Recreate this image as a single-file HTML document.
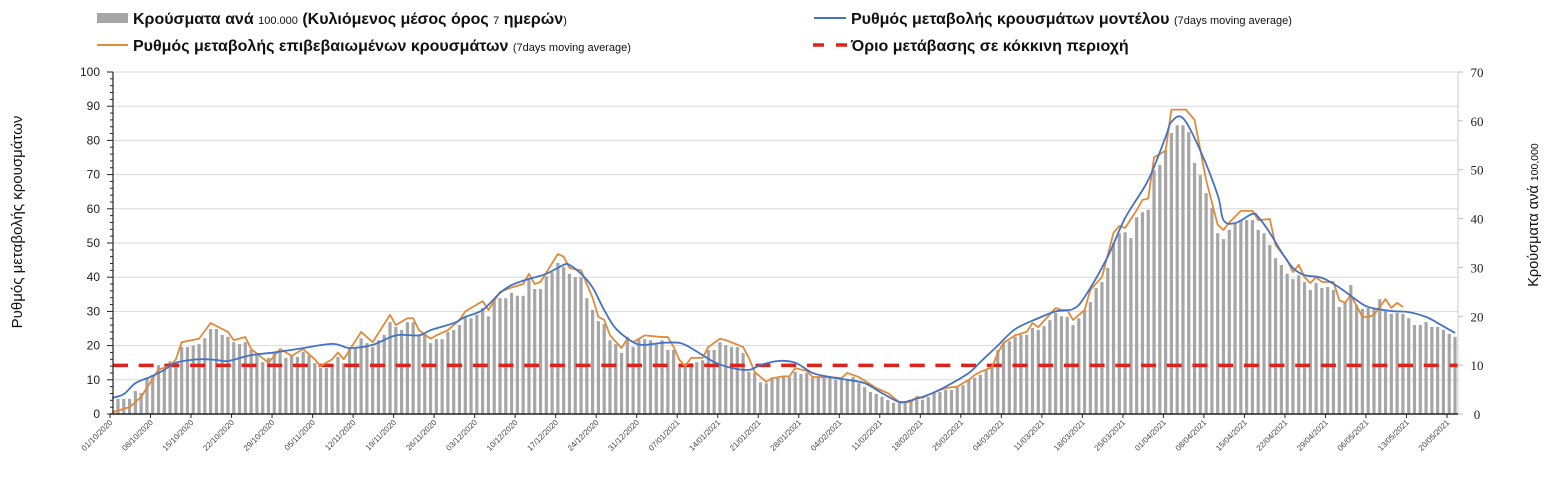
<!DOCTYPE html>
<html><head><meta charset="utf-8"><style>
body{margin:0;background:#fff;font-family:"Liberation Sans","Noto Sans CJK SC",sans-serif;}
svg{display:block}
</style></head><body>
<svg id="chart" width="1552" height="497" xmlns="http://www.w3.org/2000/svg">
<g id="legend" font-family="Liberation Sans, sans-serif">
 <g>
  <rect x="97" y="13" width="31" height="10" fill="#a6a6a6"/>
  <text x="133" y="24" font-size="16" font-weight="bold" fill="#111">Κρούσματα ανά <tspan font-size="11" font-weight="normal">100.000</tspan> (Κυλιόμενος μέσος όρος <tspan font-size="11" font-weight="normal">7</tspan> ημερών<tspan font-size="11" font-weight="normal">)</tspan></text>
 </g>
 <g>
  <line x1="97" y1="45" x2="128" y2="45" stroke="#e08a3c" stroke-width="2"/>
  <text x="133" y="51" font-size="16" font-weight="bold" fill="#111">Ρυθμός μεταβολής επιβεβαιωμένων κρουσμάτων <tspan font-size="11" font-weight="normal">(7days moving average)</tspan></text>
 </g>
 <g>
  <line x1="814" y1="18" x2="846" y2="18" stroke="#4472c4" stroke-width="2"/>
  <text x="851" y="24" font-size="16" font-weight="bold" fill="#111">Ρυθμός μεταβολής κρουσμάτων μοντέλου <tspan font-size="11" font-weight="normal">(7days moving average)</tspan></text>
 </g>
 <g>
  <line x1="813" y1="45" x2="848" y2="45" stroke="#e0201b" stroke-width="3.5" stroke-dasharray="11,12"/>
  <text x="851" y="51" font-size="16" font-weight="bold" fill="#111">Όριο μετάβασης σε κόκκινη περιοχή</text>
 </g>
</g>
<text transform="translate(22,222) rotate(-90)" text-anchor="middle" font-size="15" fill="#111">Ρυθμός μεταβολής κρουσμάτων</text>
<text transform="translate(1538,215) rotate(-90)" text-anchor="middle" font-size="14.5" fill="#111">Κρούσματα ανά <tspan font-size="10.5">100,000</tspan></text>
<g id="grid"></g>
<g id="bars"></g>
<g id="lines"></g>
<g id="axes"></g>
</svg>
<script>
const leftTicks=[0,10,20,30,40,50,60,70,80,90,100];
const rightTicks=[0,10,20,30,40,50,60,70];
const xLabels=["01/10/2020","08/10/2020","15/10/2020","22/10/2020","29/10/2020","05/11/2020","12/11/2020","19/11/2020","26/11/2020","03/12/2020","10/12/2020","17/12/2020","24/12/2020","31/12/2020","07/01/2021","14/01/2021","21/01/2021","28/01/2021","04/02/2021","11/02/2021","18/02/2021","25/02/2021","04/03/2021","11/03/2021","18/03/2021","25/03/2021","01/04/2021","08/04/2021","15/04/2021","22/04/2021","29/04/2021","06/05/2021","13/05/2021","20/05/2021"];
const casesPer100k=[3.1,3.1,3.1,4.7,4.3,7.4,8,10,9.2,10.8,10.6,13.7,13.7,14,14.3,15.5,17.4,17.4,16.2,15.8,14.7,14.3,14.7,13.1,12,10.6,11.5,12.7,12.7,11.5,12,11.7,12.7,12,10.4,9.4,9.4,10.2,11.7,10.4,13.5,13.7,15.5,14.5,13.7,15.1,16.2,18.8,17.8,17.2,18.8,18.8,16.2,16.2,14.5,15.3,15.3,16.8,17.2,18.2,19.9,19.6,20.3,21.7,20,23.3,
23.7,23.7,24.8,24.2,24.2,27.6,25.6,25.6,28.2,29,30.9,30.1,28.7,28,28,23.7,21.3,19,18.4,15.1,14.3,12.5,15.8,13.7,15.3,15.3,15.1,14.5,15.1,13.1,13.1,9.6,9.8,10.4,10.6,11,13.1,13.1,14.7,14.1,13.7,13.7,12.5,8.6,8.4,6.5,6.3,7.2,7.6,7.6,7.6,8.6,8.2,8.4,7.4,7.4,7.6,7.6,7,7,7.2,7.6,6.3,5.5,4.5,4.1,3.5,2.9,2.3,
2.3,2.3,2.5,2.9,2.9,3.5,4.3,4.5,4.9,4.9,5.5,5.9,7,7.4,8,9,9.6,13.1,14.5,14.9,15.8,16.2,16.2,17.6,17.2,18,19.2,20.7,20,19.9,18.2,19.6,21.3,22.9,25.8,27,29.9,35,37,37.2,36,40.3,41.3,41.8,49.9,51,54,57.5,59.1,
59.1,57.7,51.4,48.9,45.2,42.2,37,35.8,37.7,38.9,39.7,39.7,39.7,37.7,37,34.6,31.9,30.5,28.7,27.6,28.4,27,25.4,26.8,25.8,26,25.4,21.9,22.9,26.4,22.3,21.5,21.7,21.7,23.5,21.1,20.5,20.7,20.5,19.6,18.2,18.2,18.8,17.8,17.8,17.2,16.4,15.8];
const confirmedDays=[-1,2,4,5.5,7,9,10,11,14,16,19,20,22,23,26,28,30,32,34,35,37,38,39,42,44,47,48,50,51,52,54,55,57,59,60,63,64,66,68,70,71,72,73,76,77,78,80,82,83,84,85,87,88,89,91,94,95,96,97,98,99,101,102,104,105,108,109,110,112,113,115,116,117,119,120,123,125,126,128,131,133,135,137,138,139,140,142,143,145,147,148,149,151,152,153,155,157,158,159,162,163,164,165,167,168,170,172,173,174,176,177,178,179,181,182,184.5,186,188,190,191,192,194,196,197,199,200,202,203,204,205,206,207,208,210,211,212,213,215,216,217,218,219,220,221,222];
const confirmedRate=[0.5,2,5,9,13,14,16,21,22,26.6,24,21.6,22.5,19,15,19,17,19,16,14,16,18,16,24,21,29,26,28,28,24.5,22,23,24.5,27.5,30,33,30.4,35.7,37,38,41,38,38.6,46.8,46,42.7,42,34,28.4,27.5,23,19.3,22,21,23,22.5,22.5,19.6,15.8,14,16.4,16.4,19.6,22,21.6,19.6,16.4,12.3,9.4,10.5,11,11,13.4,12.6,10.8,10.8,10.5,12,10.8,7.6,6.1,3.5,3.5,5,4.7,5.6,7,7.6,8,10,11.4,12.3,13.7,17.8,20.8,23,24,26.6,25.4,31,30.4,30.4,27.5,30.4,36.3,40,53,55,54.4,59.6,62.6,63,75,77,89,89,86,68.4,55.3,53.8,56,59.4,59.4,56.7,57,49.4,45,41.5,43.6,40,38.3,40,38.6,38.6,33.3,32.5,34.8,28.4,28.4,29,31.3,33.6,31,32.5,31.3];
const modelDays=[-1,1,3,5.5,8,10,14,17,19,23,27,31,37,40,44,48,52,54,58,60,63,66,68,71,74,77,78,80,82,84,86,89,91,94,97,99,103,106,109,111,114,117,120,123,126,129,132,135,137,140,143,147,149,152,155,159,162,165,167,171,174,178,181,182,184,187,190,191,193,196,197,199,201,203,205,208,211,214,216,220,223,226,228,231];
const modelRate=[4.7,5.8,9,10.8,12.9,15,16,15.8,15.5,17.2,18,19,20.5,19.3,20.2,23,23,24.5,26.6,28.4,30.4,35.4,37.7,39.5,41,43.6,43.6,41,37,30.4,25,21,20.2,20.8,20.8,19.3,15.2,13.5,12.9,14.3,15.5,15,12,10.8,10,9,6.1,3.5,4,5.6,8,12,15.2,20,24.8,28,30,30.7,34.2,46,57.3,68.4,81,85.4,86.5,77,64,56.7,55.8,58.5,57.6,53,47.4,42.7,40.6,39.8,37,33.3,31.3,30.1,29.8,28.4,26.6,23.7];
const redThreshold=[14.2];

const X0=118, STEP=(1455-118)/(casesPer100k.length-1);
const TOP=72, BOT=414, L=113, R=1458;
const xDay=d=>X0+d*STEP;
const yL=v=>BOT-(v/100)*(BOT-TOP);
const yR=v=>BOT-(v/70)*(BOT-TOP);
const NS="http://www.w3.org/2000/svg";
function mk(tag,attrs,parent){const e=document.createElementNS(NS,tag);for(const k in attrs)e.setAttribute(k,attrs[k]);parent.appendChild(e);return e;}
const grid=document.getElementById('grid'),bars=document.getElementById('bars'),lines=document.getElementById('lines'),axes=document.getElementById('axes');
leftTicks.forEach(v=>{
 if(v>0){const g=mk('line',{x1:L,x2:R,y1:yL(v),y2:yL(v),stroke:'#d9d9d9','stroke-width':1},grid);
 
 }
 const t=mk('text',{x:100,y:yL(v)+4,'text-anchor':'end','font-size':12,fill:'#222'},axes);t.textContent=v;
 
 
 mk('line',{x1:L-6,x2:L,y1:yL(v),y2:yL(v),stroke:'#222','stroke-width':1},axes);
 if(v<100){for(let m=2;m<10;m+=2)mk('line',{x1:L-3,x2:L,y1:yL(v+m),y2:yL(v+m),stroke:'#222','stroke-width':1},axes);}
});
rightTicks.forEach(v=>{
 const t=mk('text',{x:1477,y:yR(v)+5,'text-anchor':'middle','font-size':13,fill:'#222','font-family':'Liberation Serif, serif'},axes);t.textContent=v;
 
 
 mk('line',{x1:R,x2:R+5,y1:yR(v),y2:yR(v),stroke:'#bbb','stroke-width':1},axes);
});
casesPer100k.forEach((v,i)=>{
 const b=mk('rect',{x:xDay(i)-1.6,y:yR(v),width:3.2,height:BOT-yR(v),fill:'#a6a6a6'},bars);
 
 
});
const red=mk('line',{x1:L,x2:R,y1:yL(redThreshold[0]),y2:yL(redThreshold[0]),stroke:'#e0201b','stroke-width':3.5,'stroke-dasharray':'15,10.7'},lines);


const oPts=confirmedDays.map((d,i)=>[xDay(d),yL(confirmedRate[i])]);
const o=mk('polyline',{points:oPts.map(p=>p.join(',')).join(' '),fill:'none',stroke:'#e08a3c','stroke-width':1.8,'stroke-linejoin':'round'},lines);


const bPts=modelDays.map((d,i)=>[xDay(d),yL(modelRate[i])]);
let dstr='M'+bPts[0].join(',');
for(let i=0;i<bPts.length-1;i++){const p0=bPts[Math.max(0,i-1)],p1=bPts[i],p2=bPts[i+1],p3=bPts[Math.min(bPts.length-1,i+2)];
 const c1=[p1[0]+(p2[0]-p0[0])/6,p1[1]+(p2[1]-p0[1])/6],c2=[p2[0]-(p3[0]-p1[0])/6,p2[1]-(p3[1]-p1[1])/6];
 dstr+=' C'+c1.join(',')+' '+c2.join(',')+' '+p2.join(',');}
const bl=mk('path',{d:dstr,fill:'none',stroke:'#4472c4','stroke-width':1.8},lines);


mk('line',{x1:L,x2:L,y1:TOP,y2:BOT,stroke:'#222','stroke-width':1.2},axes);
mk('line',{x1:R,x2:R,y1:TOP,y2:BOT,stroke:'#ccc','stroke-width':1},axes);
mk('line',{x1:L-3,x2:R,y1:BOT,y2:BOT,stroke:'#222','stroke-width':1.5},axes);
xLabels.forEach((s,k)=>{
 const x=xDay(7*k)-8;
 mk('line',{x1:x,x2:x,y1:BOT,y2:BOT+4,stroke:'#222','stroke-width':1},axes);
 const t=mk('text',{transform:`translate(${x+3},${BOT+9}) rotate(-45)`,'text-anchor':'end','font-size':8,fill:'#444'},axes);
 t.textContent=s;
 
 
});
</script>
</body></html>
